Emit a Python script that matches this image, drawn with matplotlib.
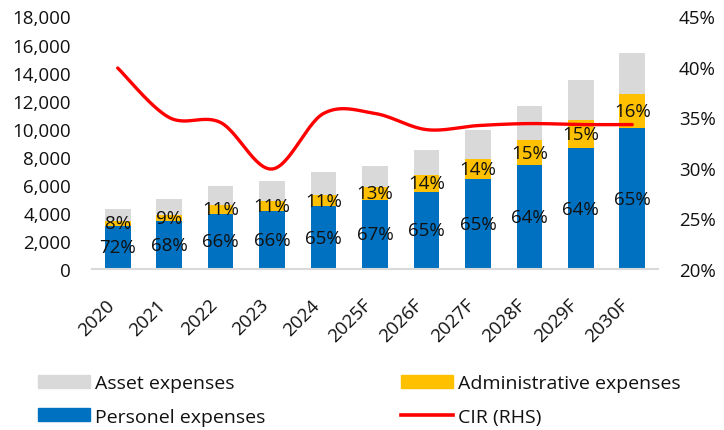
import numpy as np
import matplotlib
matplotlib.use("Agg")
import matplotlib.pyplot as plt
from matplotlib.ticker import FuncFormatter, PercentFormatter
from matplotlib.patches import Patch
from matplotlib.lines import Line2D

# ---- data ----
years = ["2020", "2021", "2022", "2023", "2024", "2025F", "2026F",
         "2027F", "2028F", "2029F", "2030F"]
total_opex = [4300, 5000, 5950, 6300, 6900, 7350, 8470, 9900, 11600, 13450, 15430]
personnel_share = [72, 68, 66, 66, 65, 67, 65, 65, 64, 64, 65]
admin_share = [8, 9, 11, 11, 11, 13, 14, 14, 15, 15, 16]
cir = [39.9, 35.0, 34.5, 29.9, 35.4, 35.4, 33.8, 34.2, 34.4, 34.3, 34.3]

# ---- styling ----
FONT = "Open Sans"
FS = 13.5
LEG_FS = 14
C_PERS = "#0070C0"
C_ADMIN = "#FFC000"
C_ASSET = "#D9D9D9"
C_CIR = "#FF0000"
TXT = "#111111"

plt.rcParams["font.family"] = [FONT, "DejaVu Sans"]

total = np.array(total_opex, dtype=float)
pers = total * np.array(personnel_share) / 100.0
admin = total * np.array(admin_share) / 100.0
asset = total - pers - admin

x = np.arange(len(years))

fig = plt.figure(figsize=(7.24, 4.31), dpi=100)
ax = fig.add_axes([92 / 724, 161 / 431, 566 / 724, 252.5 / 431])
ax2 = ax.twinx()

w = 0.5
ax.bar(x, pers, w, color=C_PERS, zorder=2)
ax.bar(x, admin, w, bottom=pers, color=C_ADMIN, zorder=2)
ax.bar(x, asset, w, bottom=pers + admin, color=C_ASSET, zorder=2)

ax.set_xlim(-0.5, len(years) - 0.5)
ax.set_ylim(0, 18000)
ax.set_yticks(np.arange(0, 18001, 2000))
ax.yaxis.set_major_formatter(FuncFormatter(lambda v, p: f"{int(v):,}"))

ax2.set_ylim(20, 45)
ax2.set_yticks(np.arange(20, 46, 5))
ax2.yaxis.set_major_formatter(PercentFormatter(decimals=0))

# smoothed CIR line (cubic Bezier segments through each point)
cy = np.array(cir)
n = len(cy)
t = np.linspace(0, 1, 30)
xs, ys = [], []
for i in range(n - 1):
    p0 = np.array([x[i], cy[i]])
    p3 = np.array([x[i + 1], cy[i + 1]])
    pm = np.array([x[max(i - 1, 0)], cy[max(i - 1, 0)]])
    pp = np.array([x[min(i + 2, n - 1)], cy[min(i + 2, n - 1)]])
    c1 = p0 + (p3 - pm) / 6.0
    c2 = p3 - (pp - p0) / 6.0
    b = ((1 - t) ** 3)[:, None] * p0 + (3 * (1 - t) ** 2 * t)[:, None] * c1 \
        + (3 * (1 - t) * t ** 2)[:, None] * c2 + (t ** 3)[:, None] * p3
    xs.extend(b[:, 0]); ys.extend(b[:, 1])
ax2.plot(xs, ys, color=C_CIR, lw=2.4, solid_capstyle="round", zorder=3)

# segment share labels, drawn above the line
for i in range(n):
    ax2.text(x[i], pers[i] / 2, f"{personnel_share[i]}%", transform=ax.transData,
             ha="center", va="center", fontsize=FS, color=TXT, zorder=5)
    ax2.text(x[i], pers[i] + admin[i] / 2, f"{admin_share[i]}%", transform=ax.transData,
             ha="center", va="center", fontsize=FS, color=TXT, zorder=5)

for a in (ax, ax2):
    for s in ("top", "left", "right", "bottom"):
        a.spines[s].set_visible(False)
ax.spines["bottom"].set_visible(True)
ax.spines["bottom"].set_color("#D9D9D9")
ax.spines["bottom"].set_linewidth(1.5)

ax.set_xticks(x)
ax.set_xticklabels(years, rotation=45, ha="right", rotation_mode="default")
ax.tick_params(axis="x", length=0, pad=19, labelsize=FS, labelcolor=TXT)
ax.tick_params(axis="y", length=0, pad=15, labelsize=FS, labelcolor=TXT)
ax2.tick_params(axis="y", length=0, pad=15, labelsize=FS, labelcolor=TXT)

# legend in two columns
h1 = [Patch(color=C_ASSET), Patch(color=C_PERS)]
l1 = ["Asset expenses", "Personel expenses"]
h2 = [Patch(color=C_ADMIN), Line2D([], [], color=C_CIR, lw=2.6)]
l2 = ["Administrative expenses", "CIR (RHS)"]
common = dict(loc="upper left", frameon=False, fontsize=LEG_FS, borderpad=0,
              borderaxespad=0, handlelength=2.68, handleheight=0.63,
              handletextpad=0.25, labelspacing=0.8, labelcolor=TXT)
fig.legend(h1, l1, bbox_to_anchor=(38 / 724, 1 - 375 / 431), **common)
fig.legend(h2, l2, bbox_to_anchor=(401 / 724, 1 - 375 / 431), **common)

fig.savefig("out.png", dpi=100)
